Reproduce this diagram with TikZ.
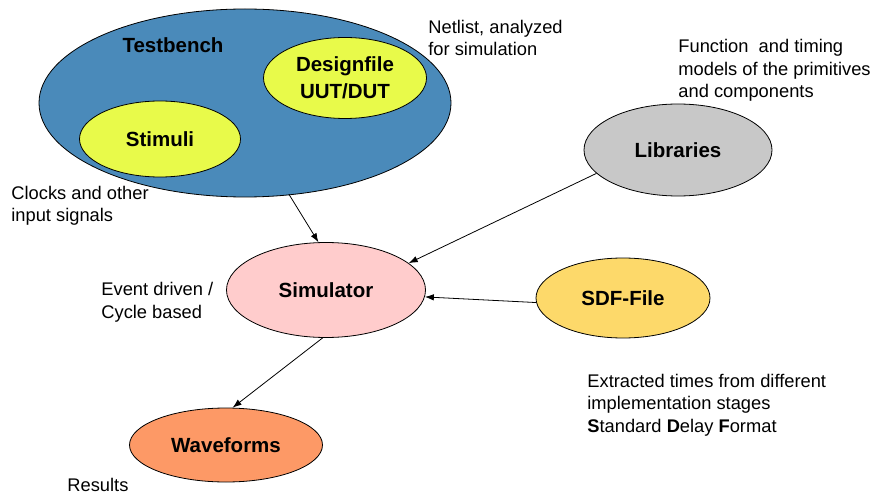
\documentclass[tikz,border=0pt]{standalone}
\usepackage{fontspec}
\setmainfont{Liberation Sans}
\usetikzlibrary{arrows.meta,positioning,shapes.geometric}
\definecolor{ink}{RGB}{0,0,0}
\definecolor{benchblue}{RGB}{74,138,186}
\definecolor{lemon}{RGB}{232,250,74}
\definecolor{rose}{RGB}{255,204,204}
\definecolor{sand}{RGB}{253,217,106}
\definecolor{stone}{RGB}{200,200,200}
\definecolor{peach}{RGB}{253,153,102}
\tikzset{
  every picture/.style={color=ink, line width=0.8pt},
  blob/.style={ellipse, draw=ink, inner sep=0pt, font=\fontsize{20.5}{27}\selectfont\bfseries, align=center},
  note/.style={font=\fontsize{18.3}{22.5}\selectfont, inner sep=0pt, align=left, anchor=base west},
  flow/.style={-{Latex[length=9pt,width=6.5pt]}, line width=0.8pt},
}

\begin{document}
\begin{tikzpicture}[x=1pt, y=-1pt]
  \useasboundingbox (0,0) rectangle (877,494);
  % testbench with its two parts
  \node[blob, fill=benchblue, minimum width=412pt, minimum height=188pt] (bench) at (245,103) {};
  \node[font=\fontsize{20.5}{27}\selectfont\bfseries, inner sep=0pt] (benchlbl) at (173,45) {Testbench};
  \node[blob, fill=lemon, minimum width=163pt, minimum height=81pt] (design) at (345,78) {Designfile\\UUT/DUT};
  \node[blob, fill=lemon, minimum width=161pt, minimum height=76pt] (stim) at (160,139) {Stimuli};
  % the other blobs
  \node[blob, fill=stone, minimum width=188pt, minimum height=92pt] (libs) at (678,150) {Libraries};
  \node[blob, fill=rose, minimum width=199pt, minimum height=95pt] (sim) at (326,290) {Simulator};
  \node[blob, fill=sand, minimum width=174pt, minimum height=80pt] (sdf) at (623,298) {SDF-File};
  \node[blob, fill=peach, minimum width=193pt, minimum height=74pt] (wave) at (226,445) {Waveforms};
  % notes (placed at the baseline of their last line)
  \node[note] (netnote) at (428,56) {Netlist, analyzed\\for simulation};
  \node[note] (fnnote) at (678,98) {Function\ \ and timing\\models of the primitives\\and components};
  \node[note] (clknote) at (11,222) {Clocks and other\\input signals};
  \node[note] (evnote) at (101,318) {Event driven /\\Cycle based};
  \node[note] (sdfnote) at (587,432) {Extracted times from different\\implementation stages\\\textbf{S}tandard \textbf{D}elay \textbf{F}ormat};
  \node[note] (resnote) at (67,491) {Results};
  % connectors
  \draw[flow] (bench.south) ++(44pt,3pt) coordinate (benchout) -- (sim.99);
  \draw[flow] (libs.196) -- (sim.18);
  \draw[flow] (sdf.183) -- (sim.-4);
  \draw[flow] (sim.266) -- (wave.80);
\end{tikzpicture}
\end{document}
